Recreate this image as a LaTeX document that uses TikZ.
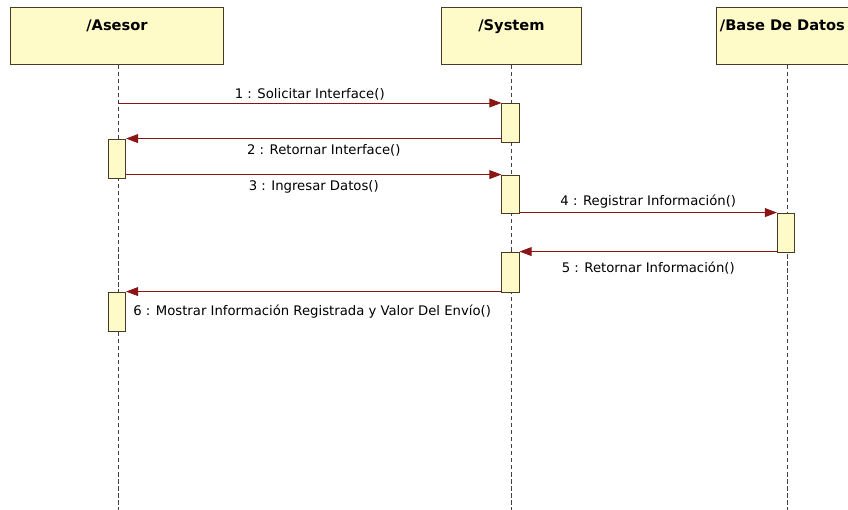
\documentclass[tikz,border=0pt]{standalone}
\usepackage{fontspec}
\setmainfont{DejaVu Sans}
\usepackage{tikz}
\usetikzlibrary{arrows.meta}
\definecolor{lifefill}{HTML}{FFFBC8}
\definecolor{lifedraw}{HTML}{4A3A24}
\definecolor{msgred}{HTML}{8B1515}
\definecolor{dashgray}{HTML}{404040}

\begin{document}
\begin{tikzpicture}[
  x=0.025cm, y=-0.025cm,
  every node/.style={font=\fontsize{9.4}{11}\selectfont},
  head/.style={draw=lifedraw, fill=lifefill, line width=0.7pt,
    minimum width=5.3cm, minimum height=1.4cm, inner sep=0pt},
  headtxt/.style={anchor=north, yshift=-0.3cm, inner sep=0pt, font=\fontsize{10.4}{12}\selectfont\bfseries},
  act/.style={draw=lifedraw, fill=lifefill, line width=0.6pt,
    minimum width=0.43cm, inner sep=0pt},
  lifeline/.style={draw=dashgray, line width=0.6pt, dash pattern=on 3pt off 2pt},
  msg/.style={draw=msgred, line width=0.6pt,
    -{Triangle[length=0.3cm, width=0.22cm]}, color=msgred},
  msgtxt/.style={text=black, inner sep=2pt}
]
\clip (0,0) rectangle (848,510);
\fill[white] (0,0) rectangle (848,510);

% Lifeline heads
\node[head] (asesor) at (117,36) {};
\node[head, minimum width=3.475cm] (system) at (511.5,36) {};
\node[head, minimum width=3.5cm] (base) at (787,36) {};
\node[headtxt] (asesortxt) at (asesor.north) {/Asesor};
\node[headtxt] (systemtxt) at (system.north) {/System};
\node[headtxt, anchor=north west, xshift=0.08cm] (basetxt) at (base.north west) {/Base De Datos};

% Lifelines
\coordinate (asesorend) at (118,510);
\coordinate (systemend) at (511,510);
\coordinate (baseend) at (787,510);
\draw[lifeline] (asesor.south -| asesorend) -- (asesorend);
\draw[lifeline] (system.south -| systemend) -- (systemend);
\draw[lifeline] (base.south -| baseend) -- (baseend);

% Activations
\node[act, minimum height=0.975cm] (s1) at (510.5,122.5) {};
\node[act, minimum height=0.975cm] (a1) at (117,158.5) {};
\node[act, minimum height=0.95cm] (s2) at (510.5,194) {};
\node[act, minimum height=0.975cm] (d1) at (786,232.5) {};
\node[act, minimum height=1cm] (s3) at (510.5,272) {};
\node[act, minimum height=0.975cm] (a2) at (117,311.5) {};

% Messages
\coordinate (m1) at (118,103);
\draw[msg] (m1) -- node[msgtxt, above, yshift=0pt] (l1) {1 : Solicitar Interface()} (m1 -| s1.west);
\draw[msg] (s1.west |- a1.north) -- node[msgtxt, below, xshift=0.25cm, yshift=-2pt] (l2) {2 : Retornar Interface()} (a1.north east);
\draw[msg] (a1.east |- s2.north) -- node[msgtxt, below, yshift=-2pt] (l3) {3 : Ingresar Datos()} (s2.north west);
\draw[msg] (s2.east |- d1.north) -- node[msgtxt, above, yshift=1pt] (l4) {4 : Registrar Información()} (d1.north west);
\draw[msg] (d1.west |- s3.north) -- node[msgtxt, below, yshift=-5pt] (l5) {5 : Retornar Información()} (s3.north east);
\draw[msg] (s3.west |- a2.north) -- node[msgtxt, pos=1, anchor=north west, xshift=0.1cm, yshift=-7pt] (l6) {6 : Mostrar Información Registrada y Valor Del Envío()} (a2.north east);

\end{tikzpicture}
\end{document}
